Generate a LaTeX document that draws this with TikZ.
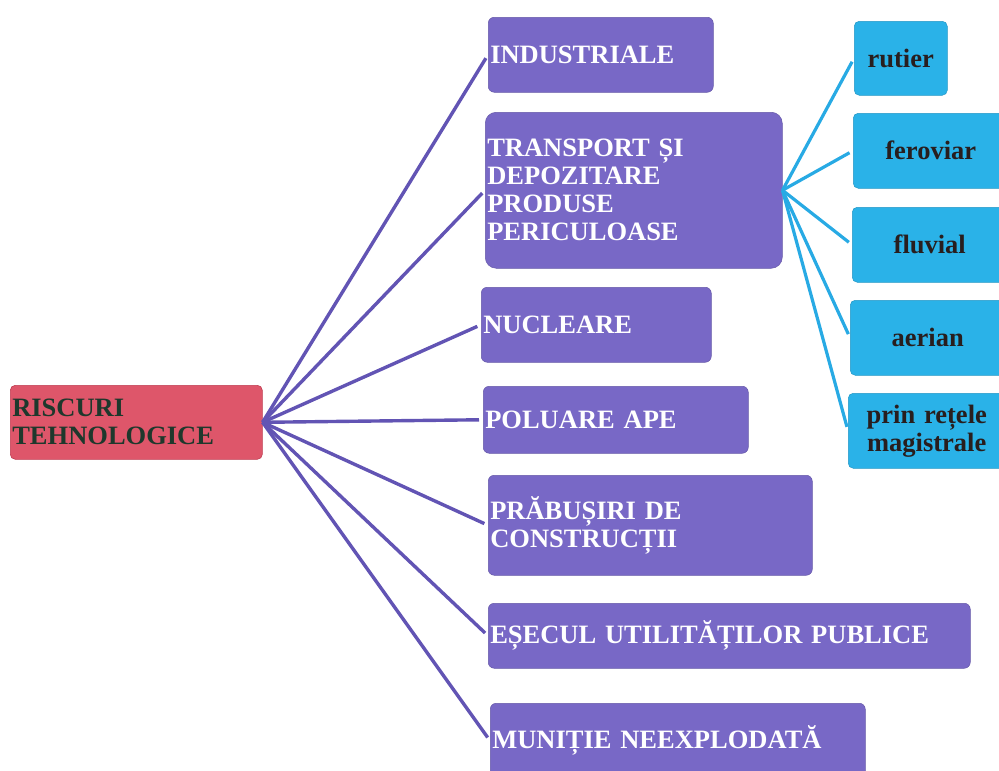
\documentclass[tikz,border=0pt]{standalone}
\usepackage{fontspec}
\setmainfont{Liberation Serif}
\definecolor{riskred}{RGB}{222,86,106}
\definecolor{riskredline}{RGB}{190,60,80}
\definecolor{risktext}{RGB}{30,56,44}
\definecolor{purbox}{RGB}{120,104,198}
\definecolor{purline}{RGB}{98,84,180}
\definecolor{cyanbox}{RGB}{42,178,232}
\definecolor{cyanline}{RGB}{40,170,228}
\definecolor{cyantext}{RGB}{40,30,30}
\tikzset{
  txt/.style={font=\bfseries\fontsize{26.5}{28}\selectfont},
  rootbox/.style={txt, fill=riskred, draw=riskredline, line width=0.6pt,
    rounded corners=5pt, text=risktext, align=left, inner xsep=2pt,
    anchor=north west},
  pbox/.style={txt, fill=purbox, draw=purbox!85!black, line width=0.5pt,
    rounded corners=6pt, text=white, align=left, inner xsep=2pt,
    anchor=north west},
  cbox/.style={txt, fill=cyanbox, draw=cyanbox!85!black, line width=0.5pt,
    rounded corners=5pt, text=cyantext, align=center, inner xsep=2pt,
    anchor=north west},
  plink/.style={draw=purline, line width=3.4pt, shorten >=4pt},
  clink/.style={draw=cyanline, line width=3.2pt, shorten >=4pt},
}
\begin{document}
\begin{tikzpicture}[x=1pt,y=-1pt]
\useasboundingbox (0,0) rectangle (999,771);
\begin{scope}
\clip (0,0) rectangle (999,771);

% root
\node[rootbox, text width=248pt, minimum height=74pt] (risc) at (10,385)
  {RISCURI\\TEHNOLOGICE};

% first level
\node[pbox, text width=221pt, minimum height=75pt] (ind) at (488,17)
  {INDUSTRIALE};
\node[pbox, text width=293pt, minimum height=156pt, rounded corners=11pt] (trans) at (485,112)
  {TRANSPORT ȘI\\DEPOZITARE\\PRODUSE\\PERICULOASE};
\node[pbox, text width=226pt, minimum height=75pt] (nuc) at (481,287)
  {NUCLEARE};
\node[pbox, text width=261pt, minimum height=67pt] (apa) at (483,386)
  {POLUARE APE};
\node[pbox, text width=320pt, minimum height=100pt] (prab) at (488,475)
  {PRĂBUȘIRI DE\\CONSTRUCȚII};
\node[pbox, text width=478pt, minimum height=65pt] (esec) at (488,603)
  {EȘECUL UTILITĂȚILOR PUBLICE};
\node[pbox, text width=371pt, minimum height=75pt] (mun) at (490,703)
  {MUNIȚIE NEEXPLODATĂ};

% second level
\node[cbox, text width=89pt, minimum height=74pt] (rut) at (854,21) {rutier};
\node[cbox, text width=151pt, minimum height=75pt] (fer) at (853,113) {feroviar};
\node[cbox, text width=151pt, minimum height=75pt] (flu) at (852,207) {fluvial};
\node[cbox, text width=151pt, minimum height=75pt] (aer) at (850,300) {aerian};
\node[cbox, text width=153pt, minimum height=75pt] (ret) at (848,393)
  {prin rețele\\magistrale};

% connectors
\foreach \t in {ind,trans,nuc,apa,prab,esec,mun}
  \draw[plink] (risc.east) -- (\t.west);
\foreach \t in {rut,fer,flu,aer,ret}
  \draw[clink] (trans.east) -- (\t.west);
\end{scope}
\end{tikzpicture}
\end{document}
